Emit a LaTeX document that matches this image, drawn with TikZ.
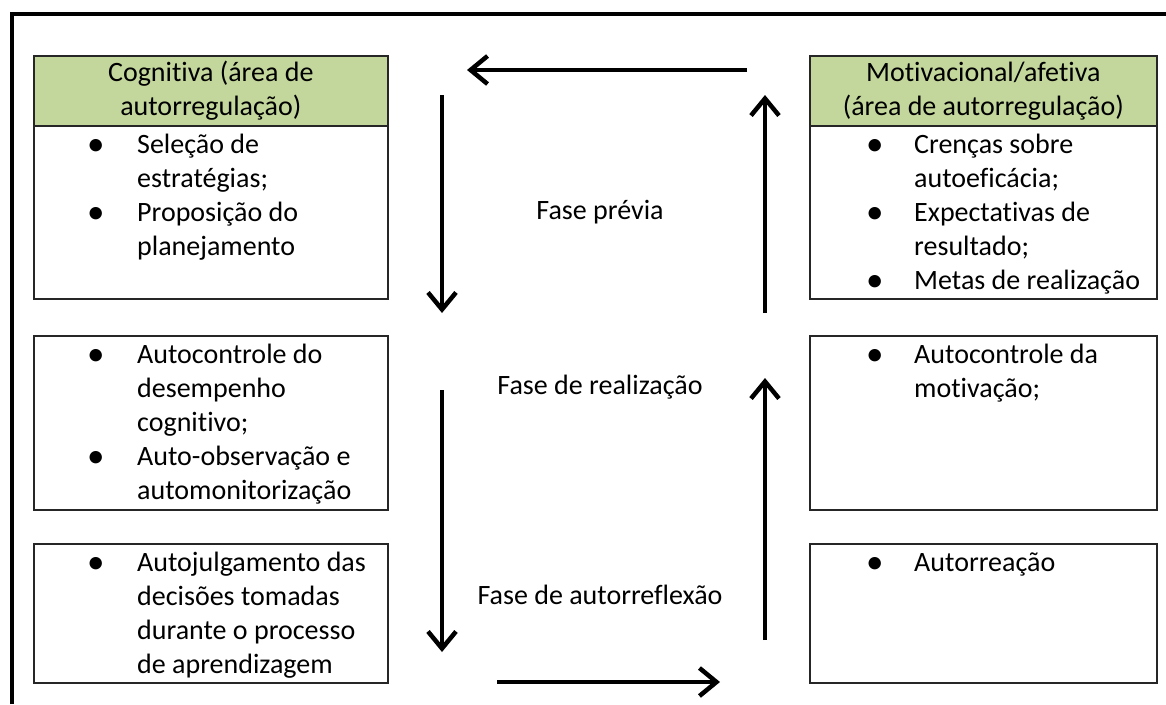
\documentclass[tikz,border=0pt]{standalone}
\usepackage{fontspec}
\setmainfont{Carlito}[Ligatures=NoCommon]
\usepackage{graphicx}
\usetikzlibrary{arrows.meta,positioning}

\definecolor{headgreen}{RGB}{195,214,155}
\newcommand{\blt}{\raisebox{-2pt}{\scalebox{1.25}{\textbullet}}}

\tikzset{
  box/.style={draw=black!85, line width=1.6pt, inner sep=0pt, anchor=north west},
  headbox/.style={box, fill=headgreen, align=center, minimum height=70pt},
  listtext/.style={inner sep=0pt, align=left},
  seta/.style={line width=4.5pt, -{Straight Barb[length=17pt,width=28pt]}}
}

\begin{document}
\begin{tikzpicture}[x=1pt,y=-1pt, font=\fontsize{28}{34}\selectfont]
  \useasboundingbox (0,0) rectangle (1166,704);

  % moldura
  \draw[line width=4pt] (12,704) -- (12,14) -- (1166,14);

  % caixas da esquerda
  \begin{scope}[every node/.style={minimum width=354pt}]
    \node[headbox] (coghead) at (33,55) {Cognitiva (área de\\autorregulação)};
    \node[box, minimum height=173pt] (cogprev) at (33,125) {};
    \node[box, minimum height=174pt] (cogreal) at (33,335) {};
    \node[box, minimum height=139pt] (cogrefl) at (33,543) {};
  \end{scope}

  % caixas da direita
  \begin{scope}[every node/.style={minimum width=347pt}]
    \node[headbox] (mothead) at (809,55) {Motivacional/afetiva\\(área de autorregulação)};
    \node[box, minimum height=173pt] (motprev) at (809,125) {};
    \node[box, minimum height=174pt] (motreal) at (809,335) {};
    \node[box, minimum height=139pt] (motrefl) at (809,543) {};
  \end{scope}

  % textos
  \begin{scope}[every node/.style={listtext}]
    \node[below right=4pt and 54pt of cogprev.north west] (t1)
      {\begin{tabular}{@{}p{50pt}@{}l@{}}
        \blt & Seleção de\\ & estratégias;\\
        \blt & Proposição do\\ & planejamento
      \end{tabular}};
    \node[below right=4pt and 54pt of cogreal.north west] (t2)
      {\begin{tabular}{@{}p{50pt}@{}l@{}}
        \blt & Autocontrole do\\ & desempenho\\ & cognitivo;\\
        \blt & Auto-observação e\\ & automonitorização
      \end{tabular}};
    \node[below right=4pt and 54pt of cogrefl.north west] (t3)
      {\begin{tabular}{@{}p{50pt}@{}l@{}}
        \blt & Autojulgamento das\\ & decisões tomadas\\
        & durante o processo\\ & de aprendizagem
      \end{tabular}};
    \node[below right=4pt and 57pt of motprev.north west] (t4)
      {\begin{tabular}{@{}p{48pt}@{}l@{}}
        \blt & Crenças sobre\\ & autoeficácia;\\
        \blt & Expectativas de\\ & resultado;\\
        \blt & Metas de realização
      \end{tabular}};
    \node[below right=4pt and 57pt of motreal.north west] (t5)
      {\begin{tabular}{@{}p{48pt}@{}l@{}}
        \blt & Autocontrole da\\ & motivação;
      \end{tabular}};
    \node[below right=4pt and 57pt of motrefl.north west] (t6)
      {\begin{tabular}{@{}p{48pt}@{}l@{}}
        \blt & Autorreação
      \end{tabular}};
  \end{scope}

  % fases
  \node (prev) at (600,212) {Fase prévia};
  \node (real) at (600,387) {Fase de realização};
  \node (refl) at (600,595) {Fase de autorreflexão};

  % setas
  \coordinate (a1) at (747,70);  \coordinate (a2) at (467,70);
  \coordinate (b1) at (442,95);  \coordinate (b2) at (442,313);
  \coordinate (c1) at (765,313); \coordinate (c2) at (765,95);
  \coordinate (d1) at (442,390); \coordinate (d2) at (442,652);
  \coordinate (e1) at (765,640); \coordinate (e2) at (765,378);
  \coordinate (f1) at (497,682); \coordinate (f2) at (720,682);

  \draw[seta] (a1) -- (a2);
  \draw[seta] (b1) -- (b2);
  \draw[seta] (c1) -- (c2);
  \draw[seta] (d1) -- (d2);
  \draw[seta] (e1) -- (e2);
  \draw[seta] (f1) -- (f2);
\end{tikzpicture}
\end{document}
